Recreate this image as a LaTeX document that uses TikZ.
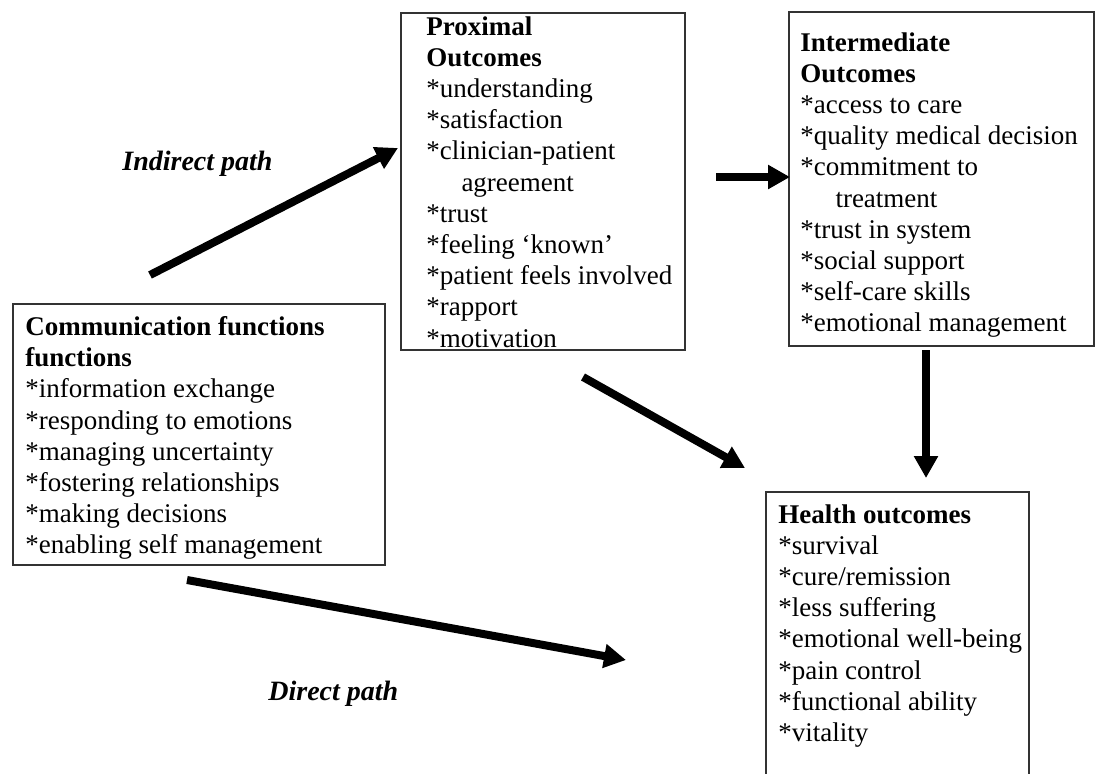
\documentclass[tikz,border=0pt]{standalone}
\usepackage{fontspec}
\setmainfont{Liberation Serif}
\usetikzlibrary{arrows.meta}
\definecolor{boxline}{HTML}{333333}
\tikzset{
  px/.style={x=0.5pt,y=-0.5pt},
  outbox/.style={draw=boxline, line width=1pt, rectangle, inner sep=0pt, anchor=north west},
  boxtext/.style={anchor=north west, inner sep=0pt, align=left, font=\fontsize{13.5}{15.6}\selectfont},
  pathlabel/.style={inner sep=0pt, anchor=base west, font=\fontsize{14}{16}\selectfont\bfseries\itshape},
  bigarrow/.style={line width=4pt, -{Triangle[length=11pt,width=11.5pt]}}
}
\newcommand{\ind}{\hspace*{1.3em}}
\begin{document}
\begin{tikzpicture}[px]
\useasboundingbox (0,0) rectangle (1098,773);
\clip (0,0) rectangle (1098,773);
% boxes
\node[outbox, minimum width=186pt, minimum height=130.5pt] (comm) at (12,303) {};
\node[outbox, minimum width=142pt, minimum height=168.5pt] (prox) at (400,12) {};
\node[outbox, minimum width=152.5pt, minimum height=167pt] (inter) at (788,11) {};
\node[outbox, minimum width=131.5pt, minimum height=160pt] (health) at (765,491) {};
% texts
\node[boxtext] (commtxt) at (25,316) {\textbf{Communication functions}\\\textbf{functions}\\*information exchange\\*responding to emotions\\*managing uncertainty\\*fostering relationships\\*making decisions\\*enabling self management};
\node[boxtext] (proxtxt) at (426,16) {\textbf{Proximal}\\\textbf{Outcomes}\\*understanding\\*satisfaction\\*clinician-patient\\\ind agreement\\*trust\\*feeling ‘known’\\*patient feels involved\\*rapport\\*motivation};
\node[boxtext] (intertxt) at (800,32) {\textbf{Intermediate}\\\textbf{Outcomes}\\*access to care\\*quality medical decision\\*commitment to\\\ind treatment\\*trust in system\\*social support\\*self-care skills\\*emotional management};
\node[boxtext] (healthtxt) at (778,504) {\textbf{Health outcomes}\\*survival\\*cure/remission\\*less suffering\\*emotional well-being\\*pain control\\*functional ability\\*vitality};
% labels
\node[pathlabel] (indlbl) at (122,170) {Indirect path};
\node[pathlabel] (dirlbl) at (268,700) {Direct path};
% arrow end points
\coordinate (indS) at (150,275);
\coordinate (indE) at (398,148);
\coordinate (piS) at (716,177);
\coordinate (piE) at (790,177);
\coordinate (phS) at (583,377);
\coordinate (phE) at (745,468);
\coordinate (ihS) at (926,350);
\coordinate (ihE) at (926,478);
\coordinate (dS) at (187,580);
\coordinate (dE) at (626,660);
% arrows
\draw[bigarrow] (indS) -- (indE);
\draw[bigarrow] (piS) -- (piE);
\draw[bigarrow] (phS) -- (phE);
\draw[bigarrow] (ihS) -- (ihE);
\draw[bigarrow] (dS) -- (dE);
\end{tikzpicture}
\end{document}
